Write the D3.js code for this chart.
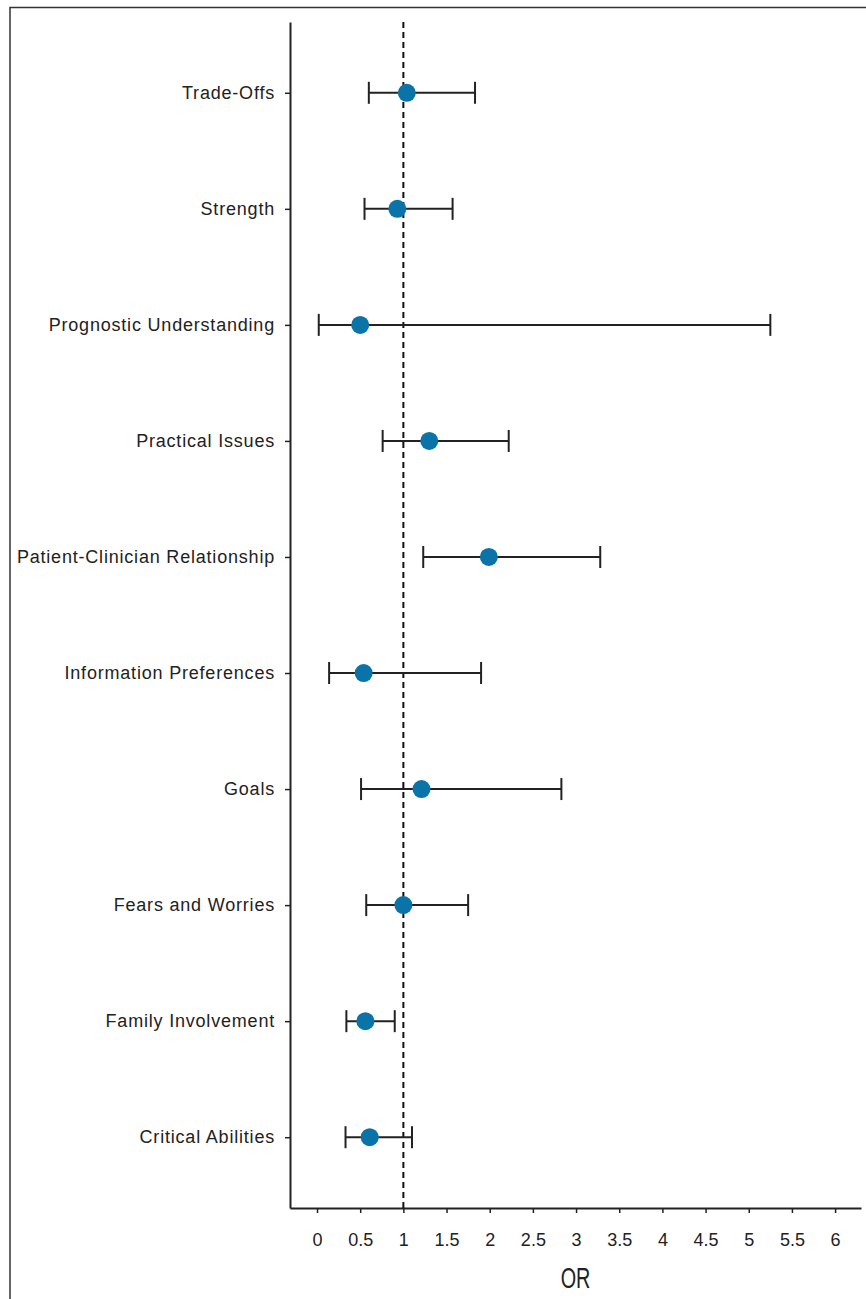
<!DOCTYPE html>
<html>
<head>
<meta charset="utf-8">
<script src="https://cdn.jsdelivr.net/npm/d3@7"></script>
<style>
  body { margin: 0; background: #ffffff; }
  svg { display: block; }
</style>
</head>
<body>
<div class="forest"></div>
<script>
// Domains of the conversation, top to bottom.
const domains = [
  "Trade-Offs",
  "Strength",
  "Prognostic Understanding",
  "Practical Issues",
  "Patient-Clinician Relationship",
  "Information Preferences",
  "Goals",
  "Fears and Worries",
  "Family Involvement",
  "Critical Abilities"
];
// Odds ratios with lower and upper confidence limits.
const oddsRatio = [1.04, 0.93, 0.50, 1.30, 1.99, 0.54, 1.21, 1.00, 0.56, 0.61];
const ciLower   = [0.60, 0.55, 0.02, 0.76, 1.23, 0.14, 0.51, 0.57, 0.34, 0.33];
const ciUpper   = [1.83, 1.57, 5.25, 2.22, 3.28, 1.90, 2.83, 1.75, 0.90, 1.10];
const xTicks = [0, 0.5, 1, 1.5, 2, 2.5, 3, 3.5, 4, 4.5, 5, 5.5, 6];
const xLabel = "OR";
const refValue = 1;

const rows = domains.map((d, i) => ({
  key: d, or: oddsRatio[i], lo: ciLower[i], hi: ciUpper[i]
}));

// Size of the drawing.
const width = 866;
const height = 1299;
const plot = { left: 290, right: 861, top: 22, bottom: 1208 };

const svg = d3.select(".forest")
  .append("svg")
  .attr("width", width)
  .attr("height", height);

// Frame around the figure (top and left edges only are visible).
svg.append("path")
  .attr("d", `M10,${height} V7.5 H${width}`)
  .attr("fill", "none")
  .attr("stroke", "#333333")
  .attr("stroke-width", 1.5);

// The axis runs a little past 0 and 6 on both sides.
const x = d3.scaleLinear()
  .domain([-0.313, 6.3])
  .range([plot.left, plot.right]);

const y = d3.scalePoint()
  .domain(domains)
  .range([plot.top, plot.bottom])
  .padding(0.61);

// Bottom axis.
const xAxis = svg.append("g")
  .attr("transform", `translate(0,${plot.bottom})`)
  .call(d3.axisBottom(x)
    .tickValues(xTicks)
    .tickFormat(d3.format(""))
    .tickSize(5)
    .tickSizeOuter(0)
    .tickPadding(20));
xAxis.select(".domain").attr("stroke", "#222222").attr("stroke-width", 2);
xAxis.selectAll(".tick line").attr("stroke", "#222222").attr("stroke-width", 1.5);
xAxis.selectAll("text")
  .attr("fill", "#222222")
  .style("font-family", "'Liberation Sans', Arial, sans-serif")
  .style("font-size", "18px");

// Left axis with the domain names.
const yAxis = svg.append("g")
  .attr("transform", `translate(${plot.left},0)`)
  .call(d3.axisLeft(y)
    .tickSize(5)
    .tickSizeOuter(0)
    .tickPadding(10));
yAxis.select(".domain").attr("stroke", "#222222").attr("stroke-width", 2);
yAxis.selectAll(".tick line").attr("stroke", "#222222").attr("stroke-width", 1.5);
yAxis.selectAll("text")
  .attr("fill", "#222222")
  .style("font-family", "'Liberation Sans', Arial, sans-serif")
  .style("font-size", "18px")
  .style("letter-spacing", "0.8px");

// Axis title, squeezed to look like a condensed face.
svg.append("text")
  .attr("transform", `translate(${(plot.left + plot.right) / 2},1288) scale(0.66,1)`)
  .attr("text-anchor", "middle")
  .attr("fill", "#222222")
  .style("font-family", "'Liberation Sans', Arial, sans-serif")
  .style("font-size", "30px")
  .text(xLabel);

// Reference line at OR = 1.
svg.append("line")
  .attr("x1", x(refValue))
  .attr("x2", x(refValue))
  .attr("y1", plot.top)
  .attr("y2", plot.bottom)
  .attr("stroke", "#111111")
  .attr("stroke-width", 2)
  .attr("stroke-dasharray", "6,4");

// Confidence intervals with end caps.
const capHalf = 11;
const bars = svg.append("g")
  .selectAll("g")
  .data(rows)
  .enter()
  .append("g")
  .attr("stroke", "#222222")
  .attr("stroke-width", 2);

bars.append("line")
  .attr("x1", d => x(d.lo))
  .attr("x2", d => x(d.hi))
  .attr("y1", d => y(d.key))
  .attr("y2", d => y(d.key));
bars.append("line")
  .attr("x1", d => x(d.lo))
  .attr("x2", d => x(d.lo))
  .attr("y1", d => y(d.key) - capHalf)
  .attr("y2", d => y(d.key) + capHalf);
bars.append("line")
  .attr("x1", d => x(d.hi))
  .attr("x2", d => x(d.hi))
  .attr("y1", d => y(d.key) - capHalf)
  .attr("y2", d => y(d.key) + capHalf);

// Point estimates.
svg.append("g")
  .selectAll("circle")
  .data(rows)
  .enter()
  .append("circle")
  .attr("cx", d => x(d.or))
  .attr("cy", d => y(d.key))
  .attr("r", 9)
  .attr("fill", "#0a73a8");
</script>
</body>
</html>
